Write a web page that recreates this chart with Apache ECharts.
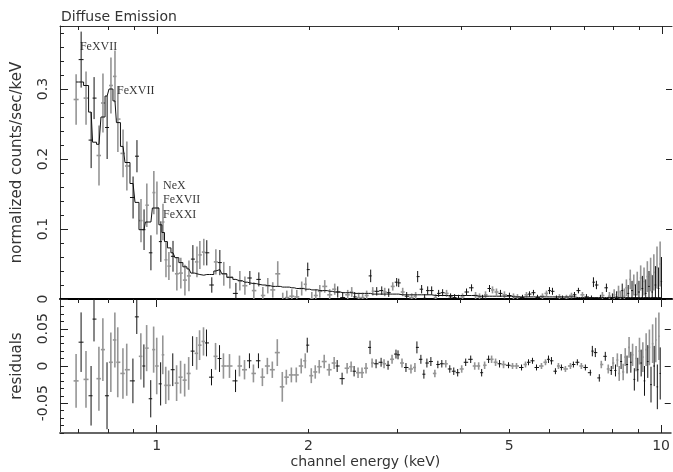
<!DOCTYPE html>
<html>
<head>
<meta charset="utf-8">
<script src="https://cdn.jsdelivr.net/npm/echarts@6/dist/echarts.min.js"></script>
<style>
  html, body { margin: 0; padding: 0; background: #fff; }
  #chart { width: 673px; height: 472px; }
</style>
</head>
<body>
<div id="chart"></div>
<script>
// bin centres (keV)
const energy = [
  0.692, 0.708, 0.724, 0.741, 0.751, 0.768, 0.782, 0.797, 0.811, 0.826,
  0.837, 0.857, 0.872, 0.897, 0.913, 0.930, 0.943, 0.955, 0.973, 0.986,
  1.000, 1.018, 1.028, 1.042, 1.056, 1.076, 1.095, 1.115, 1.136, 1.157,
  1.178, 1.200, 1.216, 1.238, 1.255, 1.284, 1.308, 1.332, 1.356, 1.394,
  1.433, 1.459, 1.493, 1.527, 1.555, 1.591, 1.620, 1.657, 1.695, 1.734,
  1.774, 1.807, 1.849, 1.891, 1.934, 1.970, 1.988, 2.025, 2.062, 2.100,
  2.148, 2.197, 2.248, 2.279, 2.331, 2.385, 2.429, 2.462, 2.507, 2.553,
  2.600, 2.648, 2.673, 2.722, 2.785, 2.823, 2.875, 2.928, 2.981, 3.009,
  3.064, 3.120, 3.192, 3.250, 3.280, 3.340, 3.386, 3.433, 3.496, 3.560,
  3.609, 3.675, 3.742, 3.811, 3.881, 3.951, 4.024, 4.098, 4.193, 4.270,
  4.348, 4.408, 4.468, 4.550, 4.613, 4.697, 4.783, 4.871, 4.983, 5.075,
  5.168, 5.288, 5.385, 5.459, 5.559, 5.662, 5.792, 5.899, 5.980, 6.062,
  6.173, 6.258, 6.344, 6.461, 6.610, 6.701, 6.823, 6.949, 7.077, 7.240,
  7.306, 7.406, 7.542, 7.611, 7.751, 7.857, 7.965, 8.03, 8.12, 8.19,
  8.26, 8.33, 8.41, 8.49, 8.56, 8.64, 8.71, 8.78, 8.85, 8.92,
  8.99, 9.06, 9.13, 9.20, 9.27, 9.34, 9.41, 9.48, 9.55, 9.62,
  9.69, 9.76, 9.83, 9.90, 9.96
]
// folded model (normalized counts/sec/keV)
const model = [
  .310, .310, .305, .267, .224, .221, .260, .290, .300, .283,
  .252, .218, .195, .165, .138, .099, .099, .110, .110, .130,
  .130, .106, .095, .082, .073, .066, .059, .052, .046, .043,
  .037, .036, .035, .034, .035, .035, .040, .042, .036, .031,
  .028, .026, .024, .023, .022, .021, .020, .019, .018, .018,
  .017, .017, .016, .015, .015, .014, .014, .013, .013, .012,
  .012, .011, .010, .010, .009, .009, .009, .008, .008, .008,
  .008, .008, .007, .007, .007, .007, .007, .007, .007, .007,
  .006, .006, .006, .006, .006, .006, .006, .006, .006, .005,
  .005, .005, .005, .005, .005, .005, .005, .005, .005, .005,
  .004, .004, .004, .004, .004, .004, .004, .004, .004, .003,
  .003, .003, .003, .003, .003, .003, .003, .003, .003, .003,
  .003, .003, .003, .003, .003, .003, .002, .002, .002, .002,
  .002, .002, .002, .002, .002, .002, .002, .002, .002, .002,
  .002, .002, .002, .002, .002, .002, .002, .002, .002, .002,
  .002, .002, .002, .002, .002, .002, .002, .002, .002, .002,
  .002, .002, .002, .002, .002
]
// observed spectrum
const flux = [
  .285, .342, .287, .227, .287, .205, .280, .245, .305, .318,
  .257, .208, .190, .145, .204, .112, .099, .134, .066, .152,
  .130, .082, .110, .056, .047, .061, .036, .037, .027, .033,
  .057, .053, .063, .067, .066, .020, .053, .052, .036, .031,
  .008, .026, .019, .030, .012, .028, .005, .019, .013, .036,
  -.011, .002, .004, .003, .015, .021, .042, .000, .005, .011,
  .018, .006, .014, .010, .002, .006, .010, .003, .002, .002,
  .005, .033, .011, .011, .012, .010, .009, .018, .024, .023,
  .010, .004, .002, .004, .032, .014, .001, .012, .012, .002,
  .008, .009, .008, .003, .002, .001, .003, .010, .016, .005,
  .003, .001, .006, .015, .013, .010, .008, .006, .005, .004,
  .003, .002, .006, .007, .009, .002, .004, .008, .012, .011,
  .001, .003, .001, .002, .005, .006, .012, .006, .003, .001,
  .024, .020, .001, .005, .016, .004, .002, .006, .003, .010,
  .002, .012, .004, .016, .008, .028, .012, .020, .006, .022,
  .010, .030, .015, .025, .008, .032, .018, .035, .010, .038,
  .020, .045, .015, .050, .025
]
const fluxErr = [
  .036, .040, .038, .040, .030, .043, .042, .045, .040, .037,
  .047, .034, .035, .030, .023, .031, .029, .031, .025, .031,
  .038, .029, .026, .025, .020, .022, .024, .022, .022, .022,
  .020, .022, .020, .019, .018, .011, .018, .018, .017, .016,
  .015, .014, .013, .010, .012, .010, .012, .011, .011, .018,
  .020, .010, .010, .010, .010, .010, .010, .010, .009, .009,
  .009, .008, .008, .008, .008, .007, .007, .007, .007, .007,
  .007, .009, .006, .006, .006, .006, .006, .006, .006, .006,
  .006, .006, .006, .006, .008, .006, .006, .006, .006, .005,
  .005, .005, .005, .005, .005, .005, .005, .005, .005, .005,
  .005, .005, .005, .005, .005, .005, .005, .005, .004, .004,
  .004, .004, .004, .004, .004, .004, .004, .004, .005, .005,
  .004, .004, .004, .004, .004, .004, .004, .004, .004, .004,
  .007, .006, .005, .005, .006, .006, .006, .008, .008, .009,
  .010, .010, .011, .012, .012, .014, .014, .015, .015, .017,
  .016, .018, .018, .020, .020, .022, .022, .024, .024, .026,
  .027, .030, .030, .032, .035
]
const resid = [
  -.020, .032, -.018, -.040, .063, -.017, .022, -.040, .005, .035,
  .005, -.010, -.005, -.020, .066, .013, .000, .024, -.044, .022,
  .000, -.024, .015, -.026, -.026, -.005, -.023, -.015, -.019, -.010,
  .020, .017, .028, .033, .031, -.015, .013, .010, .000, .000,
  -.020, .000, -.005, .007, -.010, .007, -.015, .000, -.005, .018,
  -.028, -.015, -.012, -.012, .000, .007, .028, -.013, -.008, -.001,
  .006, -.005, .004, .000, -.017, -.003, -.001, -.007, -.009, -.009,
  -.003, .025, .004, .003, .005, .003, .001, .009, .016, .015,
  .004, -.002, -.004, -.002, .025, .009, -.011, .004, .006, -.010,
  .002, .003, .003, -.004, -.007, -.009, -.004, .005, .009, .000,
  .000, -.009, .001, .009, .009, .005, .003, .002, .001, .000,
  .000, -.002, .002, .005, .007, -.002, .000, .005, .009, .007,
  -.007, .000, -.002, -.004, .000, .002, .005, .000, -.002, -.009,
  .020, .018, -.016, .002, .013, -.004, -.006, .004, -.006, .008,
  -.010, .006, -.008, .012, .002, .025, .005, .015, -.018, .010,
  -.005, .020, .004, .012, -.020, .022, .006, .025, -.025, .030,
  .000, .035, -.028, .040, -.010
]
// 0 = grey data set, 1 = black data set
const detector = [
  0, 1, 0, 1, 1, 0, 0, 1, 0, 0,
  0, 0, 0, 1, 1, 0, 1, 0, 1, 0,
  0, 1, 0, 0, 0, 1, 0, 0, 0, 0,
  1, 0, 0, 0, 1, 1, 0, 1, 0, 0,
  1, 0, 0, 1, 0, 1, 0, 0, 0, 0,
  0, 0, 0, 0, 0, 0, 1, 0, 0, 0,
  0, 0, 0, 1, 1, 0, 0, 1, 0, 0,
  0, 1, 0, 1, 1, 0, 1, 0, 1, 1,
  0, 1, 0, 0, 1, 1, 1, 1, 1, 0,
  1, 1, 0, 1, 1, 1, 0, 1, 1, 0,
  0, 1, 0, 1, 0, 0, 1, 0, 1, 0,
  0, 1, 0, 1, 1, 1, 0, 0, 1, 1,
  1, 0, 1, 0, 0, 1, 1, 0, 1, 1,
  1, 1, 1, 0, 1, 0, 1, 0, 1, 0,
  0, 1, 0, 0, 1, 0, 1, 0, 1, 0,
  1, 0, 1, 0, 1, 0, 1, 0, 1, 0,
  1, 0, 1, 0, 1
]

const xMinorTicks = [0.7, 0.8, 0.9, 2, 3, 4, 5, 6, 7, 8, 9]
const xMajorTicks = [1, 10]
const xLabels = [1, 2, 5, 10]
const specTicks = [0, 0.1, 0.2, 0.3]
const residTicks = [-0.05, 0, 0.05]

const noteE = [0.704, 0.834, 1.028, 1.028, 1.028]
const noteV = [0.360, 0.297, 0.162, 0.141, 0.120]
const noteText = ['FeXVII', 'FeXVII', 'NeX', 'FeXVII', 'FeXXI']

const xMin = 0.643, xMax = 10.45
const font = 'DejaVu Sans'

// bin edges half way (in log) to the neighbours
const edges = energy.map((e, i) => {
  const prev = i > 0 ? energy[i - 1] : e * e / energy[i + 1]
  const next = i < energy.length - 1 ? energy[i + 1] : e * e / energy[i - 1]
  return [Math.sqrt(prev * e), Math.sqrt(e * next)]
})

function points(values, set) {
  const out = []
  energy.forEach((e, i) => {
    if (detector[i] !== set) return
    out.push([e, edges[i][0], edges[i][1], values[i], values[i] - fluxErr[i], values[i] + fluxErr[i]])
  })
  return out
}

function cross(color, width) {
  return function (params, api) {
    const v = api.value(3), e = api.value(0)
    const a = api.coord([api.value(1), v])
    const b = api.coord([api.value(2), v])
    const c = api.coord([e, api.value(4)])
    const d = api.coord([e, api.value(5)])
    const style = { stroke: color, lineWidth: width }
    return {
      type: 'group',
      children: [
        { type: 'line', shape: { x1: a[0], y1: a[1], x2: b[0], y2: b[1] }, style: style },
        { type: 'line', shape: { x1: c[0], y1: c[1], x2: d[0], y2: d[1] }, style: style }
      ]
    }
  }
}

function xAx(grid, pos, ticks, len, extra) {
  return Object.assign({
    type: 'log', logBase: 10, gridIndex: grid, position: pos, min: xMin, max: xMax,
    axisLine: { show: false, onZero: false }, splitLine: { show: false }, axisLabel: { show: false },
    axisTick: { inside: true, length: len, customValues: ticks, lineStyle: { color: '#222' } }
  }, extra || {})
}

function yAx(grid, pos, min, max, extra) {
  return Object.assign({
    type: 'value', gridIndex: grid, position: pos, min: min, max: max,
    axisLine: { show: false, onZero: false }, splitLine: { show: false }, axisLabel: { show: false },
    axisTick: { show: false }
  }, extra || {})
}

const chart = echarts.init(document.getElementById('chart'))

chart.setOption({
  animation: false,
  backgroundColor: '#fff',
  title: {
    text: 'Diffuse Emission', left: 56, top: 5,
    textStyle: { fontFamily: font, fontSize: 14, fontWeight: 'normal', color: '#333' }
  },
  grid: [
    { left: 60, right: 1, top: 26, height: 273 },
    { left: 60, right: 1, top: 299, height: 134 }
  ],
  xAxis: [
    xAx(0, 'bottom', [], 0, { axisLine: { show: true, onZero: false, lineStyle: { color: '#000', width: 2 } }, axisTick: { show: false } }),
    xAx(0, 'top', xMinorTicks, 4, { axisLine: { show: true, onZero: false, lineStyle: { color: '#333', width: 1 } } }),
    xAx(0, 'top', xMajorTicks, 8),
    xAx(1, 'top', xMinorTicks, 4),
    xAx(1, 'top', xMajorTicks, 8),
    xAx(1, 'bottom', xMinorTicks, 4, {
      axisLine: { show: true, onZero: false, lineStyle: { color: '#666', width: 2 } },
      axisLabel: { show: true, customValues: xLabels, margin: 6, fontFamily: font, fontSize: 14, color: '#333' },
      name: 'channel energy (keV)', nameLocation: 'middle', nameGap: 22,
      nameTextStyle: { fontFamily: font, fontSize: 14, color: '#333' }
    }),
    xAx(1, 'bottom', xMajorTicks, 8)
  ],
  yAxis: [
    yAx(0, 'left', 0, 0.39, {
      axisLine: { show: true, onZero: false, lineStyle: { color: '#333' } },
      axisTick: { show: true, inside: true, length: 8, customValues: specTicks, lineStyle: { color: '#222' } },
      axisLabel: { show: true, customValues: specTicks, rotate: 90, margin: 10, fontFamily: font, fontSize: 14, color: '#333' },
      name: 'normalized counts/sec/keV', nameLocation: 'middle', nameRotate: 90, nameGap: 35,
      nameTextStyle: { fontFamily: font, fontSize: 15, color: '#333' }
    }),
    yAx(0, 'left', 0, 0.39, { interval: 0.02, axisTick: { show: true, inside: true, length: 4, lineStyle: { color: '#222' } } }),
    yAx(0, 'right', 0, 0.39, { axisTick: { show: true, inside: true, length: 6, customValues: specTicks, lineStyle: { color: '#222' } } }),
    yAx(1, 'left', -0.09, 0.09, {
      axisLine: { show: true, onZero: false, lineStyle: { color: '#333' } },
      axisTick: { show: true, inside: true, length: 8, customValues: residTicks, lineStyle: { color: '#222' } },
      axisLabel: { show: true, customValues: residTicks, rotate: 90, margin: 10, fontFamily: font, fontSize: 14, color: '#333' },
      name: 'residuals', nameLocation: 'middle', nameRotate: 90, nameGap: 35,
      nameTextStyle: { fontFamily: font, fontSize: 15, color: '#333' }
    }),
    yAx(1, 'left', -0.09, 0.09, { interval: 0.01, axisTick: { show: true, inside: true, length: 4, lineStyle: { color: '#222' } } }),
    yAx(1, 'right', -0.09, 0.09, { axisTick: { show: true, inside: true, length: 6, customValues: residTicks, lineStyle: { color: '#222' } } })
  ],
  series: [
    {
      name: 'grey data', type: 'custom', xAxisIndex: 0, yAxisIndex: 0, clip: true,
      renderItem: cross('#959595', 1.6), data: points(flux, 0), z: 2
    },
    {
      name: 'black data', type: 'custom', xAxisIndex: 0, yAxisIndex: 0, clip: true,
      renderItem: cross('#111', 1), data: points(flux, 1), z: 3
    },
    {
      name: 'model', type: 'line', xAxisIndex: 0, yAxisIndex: 0, step: 'middle',
      symbol: 'none', lineStyle: { color: '#111', width: 1 },
      data: energy.map((e, i) => [e, model[i]]), z: 4
    },
    {
      name: 'grey residuals', type: 'custom', xAxisIndex: 5, yAxisIndex: 3, clip: true,
      renderItem: cross('#959595', 1.6), data: points(resid, 0), z: 2
    },
    {
      name: 'black residuals', type: 'custom', xAxisIndex: 5, yAxisIndex: 3, clip: true,
      renderItem: cross('#111', 1), data: points(resid, 1), z: 3
    },
    {
      name: 'lines', type: 'scatter', xAxisIndex: 0, yAxisIndex: 0, symbolSize: 0, silent: true,
      data: noteE.map((e, i) => [e, noteV[i], noteText[i]]),
      label: {
        show: true, position: 'right', distance: 0, formatter: p => p.data[2],
        fontFamily: 'Liberation Serif', fontSize: 12, color: '#000'
      },
      z: 5
    }
  ]
})
</script>
</body>
</html>
